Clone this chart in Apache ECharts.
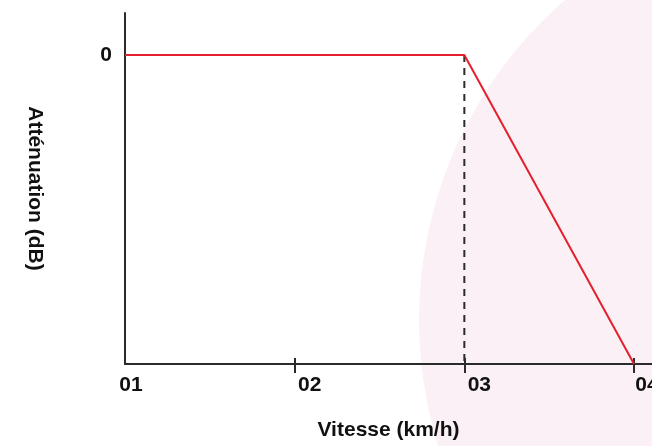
<!DOCTYPE html>
<html>
<head>
<meta charset="utf-8">
<script src="https://cdn.jsdelivr.net/npm/echarts@6/dist/echarts.min.js"></script>
<style>html,body{margin:0;padding:0;background:#fff;}#c{width:652px;height:446px;}</style>
</head>
<body>
<div id="c"></div>
<script>
// Data
const xTickValues = [1, 2, 3, 4];
const xTickLabels = ['01', '02', '03', '04'];
const yTickValues = [0];
const yTickLabels = ['0'];
const speed = [1, 3, 4];
const attenuation = [0, 0, -30];
const kneeSpeed = [3, 3];
const kneeAtt = [0, -30];
const xTitle = 'Vitesse (km/h)';
const yTitle = 'Atténuation (dB)';

const FONT = '"Liberation Sans", Arial, sans-serif';
const FS = 21;
const labelPad = {1: 12, 2: 30, 3: 30, 4: 26};
const richStyle = p => ({padding: [0, 0, 0, p], fontSize: FS, fontWeight: 'bold', color: '#111', fontFamily: FONT});

const chart = echarts.init(document.getElementById('c'), null, {renderer: 'canvas'});
chart.setOption({
  animation: false,
  backgroundColor: '#ffffff',
  graphic: [{
    type: 'circle', z: -10, silent: true,
    shape: {cx: 843, cy: 320, r: 424},
    style: {fill: '#fbf0f6'}
  }],
  grid: {left: 125, right: 0, top: 13, bottom: 82, containLabel: false, outerBoundsMode: 'none'},
  xAxis: [{
    type: 'value', min: 1, max: 4.106,
    splitLine: {show: false},
    axisLine: {onZero: false, lineStyle: {color: '#2b2b2b', width: 2}},
    axisTick: {show: true, inside: false, length: 9, customValues: xTickValues.slice(1), lineStyle: {color: '#2b2b2b', width: 2}},
    axisLabel: {
      customValues: xTickValues, margin: 11, align: 'center', showMaxLabel: true, showMinLabel: true, hideOverlap: false,
      formatter: v => '{p' + Math.round(v) + '|' + xTickLabels[xTickValues.indexOf(Math.round(v))] + '}',
      rich: {p1: richStyle(labelPad[1]), p2: richStyle(labelPad[2]), p3: richStyle(labelPad[3]), p4: richStyle(labelPad[4])}
    },
    name: xTitle, nameLocation: 'middle', nameGap: 56,
    nameTextStyle: {fontSize: FS, fontWeight: 'bold', color: '#111', fontFamily: FONT}
  }, {
    type: 'value', min: 1, max: 4.106, position: 'bottom',
    splitLine: {show: false},
    axisLine: {show: false, onZero: false},
    axisLabel: {show: false},
    axisTick: {show: true, inside: true, length: 6, customValues: xTickValues.slice(1), lineStyle: {color: '#2b2b2b', width: 2}}
  }],
  yAxis: {
    type: 'value', min: -30, max: 4.08,
    splitLine: {show: false},
    axisLine: {show: true, onZero: false, lineStyle: {color: '#2b2b2b', width: 2}},
    axisTick: {show: false},
    axisLabel: {
      customValues: yTickValues, margin: 13,
      formatter: v => yTickLabels[yTickValues.indexOf(v)],
      fontSize: FS, fontWeight: 'bold', color: '#111', fontFamily: FONT
    },
    name: yTitle, nameLocation: 'middle', nameGap: 80, nameRotate: -90,
    nameTextStyle: {fontSize: FS, fontWeight: 'bold', color: '#111', fontFamily: FONT}
  },
  series: [{
    type: 'line', data: kneeSpeed.map((x, i) => [x, kneeAtt[i]]),
    symbol: 'none', silent: true, z: 2,
    lineStyle: {color: '#2b2b2b', width: 2, type: [7, 6]}
  }, {
    type: 'line', data: speed.map((x, i) => [x, attenuation[i]]),
    symbol: 'none', silent: true, z: 3,
    lineStyle: {color: '#e5202e', width: 2}
  }]
});
</script>
</body>
</html>
